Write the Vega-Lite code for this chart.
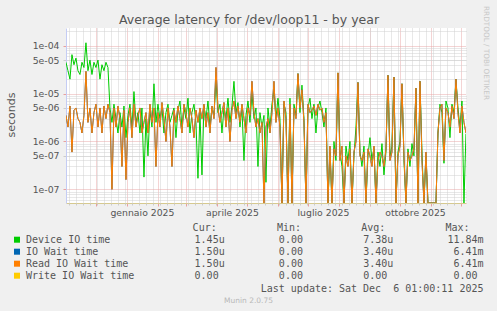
{
  "$schema": "https://vega.github.io/schema/vega-lite/v6.json",
  "width": 400,
  "height": 175,
  "autosize": {"type": "none"},
  "padding": {"left": 66, "top": 28, "right": 31, "bottom": 108},
  "background": "#f0f0f0",
  "config": {"view": {"stroke": null, "fill": "#ffffff"}},
  "title": {"text": "Average latency for /dev/loop11 - by year", "font": "DejaVu Sans", "fontSize": 12.5, "fontWeight": "normal", "color": "#555555", "anchor": "middle", "dx": -17, "dy": 35, "offset": 4.5, "baseline": "alphabetic"},
  "data": {"values": [
    {"t":"2024-11-01T00:00","d":4.5e-5,"w":3.5e-6,"r":3.5e-6},
    {"t":"2024-11-03T00:00","d":3.0e-5,"w":2.0e-6,"r":2.0e-6},
    {"t":"2024-11-05T00:00","d":2.0e-5,"w":5.5e-6,"r":5.5e-6},
    {"t":"2024-11-07T00:00","d":6.5e-5,"w":6.0e-7,"r":6.0e-7},
    {"t":"2024-11-09T00:00","d":4.0e-5,"w":4.5e-6,"r":4.5e-6},
    {"t":"2024-11-11T00:00","d":5.5e-5,"w":5.0e-6,"r":5.0e-6},
    {"t":"2024-11-13T00:00","d":3.0e-5,"w":3.0e-6,"r":3.0e-6},
    {"t":"2024-11-15T00:00","d":2.5e-5,"w":2.5e-6,"r":2.5e-6},
    {"t":"2024-11-17T00:00","d":4.5e-5,"w":1.5e-6,"r":1.5e-6},
    {"t":"2024-11-19T00:00","d":3.5e-5,"w":3.5e-6,"r":3.5e-6},
    {"t":"2024-11-21T00:00","d":1.15e-4,"w":2.9e-5,"r":2.9e-5},
    {"t":"2024-11-23T00:00","d":3.0e-5,"w":2.5e-6,"r":2.5e-6},
    {"t":"2024-11-25T00:00","d":5.0e-5,"w":5.0e-6,"r":5.0e-6},
    {"t":"2024-11-27T00:00","d":2.5e-5,"w":1.5e-6,"r":1.5e-6},
    {"t":"2024-11-29T00:00","d":4.5e-5,"w":4.0e-6,"r":4.0e-6},
    {"t":"2024-12-01T00:00","d":3.5e-5,"w":6.0e-6,"r":6.0e-6},
    {"t":"2024-12-03T00:00","d":5.0e-5,"w":2.0e-6,"r":2.0e-6},
    {"t":"2024-12-05T00:00","d":2.0e-5,"w":5.0e-6,"r":5.0e-6},
    {"t":"2024-12-07T00:00","d":4.0e-5,"w":1.5e-6,"r":1.5e-6},
    {"t":"2024-12-09T00:00","d":3.0e-5,"w":5.5e-6,"r":5.5e-6},
    {"t":"2024-12-11T00:00","d":4.5e-5,"w":3.0e-6,"r":3.0e-6},
    {"t":"2024-12-13T00:00","d":3.5e-5,"w":6.0e-6,"r":6.0e-6},
    {"t":"2024-12-15T00:00","d":5.0e-6,"w":4.0e-6,"r":4.0e-6},
    {"t":"2024-12-17T00:00","d":2.5e-6,"w":1.0e-7,"r":1.0e-7},
    {"t":"2024-12-19T00:00","d":6.0e-6,"w":5.0e-6,"r":5.0e-6},
    {"t":"2024-12-21T00:00","d":3.0e-6,"w":2.0e-6,"r":2.0e-6},
    {"t":"2024-12-23T00:00","d":1.5e-6,"w":5.5e-6,"r":5.5e-6},
    {"t":"2024-12-25T00:00","d":4.0e-6,"w":3.0e-6,"r":3.0e-6},
    {"t":"2024-12-27T00:00","d":2.0e-6,"w":3.0e-7,"r":3.0e-7},
    {"t":"2024-12-29T00:00","d":5.5e-6,"w":4.5e-6,"r":4.5e-6},
    {"t":"2024-12-31T00:00","d":1.2e-6,"w":1.6e-7,"r":1.6e-7},
    {"t":"2025-01-02T00:00","d":3.5e-6,"w":2.5e-6,"r":2.5e-6},
    {"t":"2025-01-04T00:00","d":6.0e-6,"w":5.0e-6,"r":5.0e-6},
    {"t":"2025-01-06T00:00","d":2.0e-6,"w":1.2e-6,"r":1.2e-6},
    {"t":"2025-01-08T00:00","d":1.1e-5,"w":6.0e-6,"r":6.0e-6},
    {"t":"2025-01-10T00:00","d":2.5e-6,"w":2.0e-6,"r":2.0e-6},
    {"t":"2025-01-12T00:00","d":4.0e-6,"w":3.5e-6,"r":3.5e-6},
    {"t":"2025-01-14T00:00","d":1.5e-6,"w":5.0e-6,"r":5.0e-6},
    {"t":"2025-01-16T00:00","d":5.0e-6,"w":1.5e-6,"r":1.5e-6},
    {"t":"2025-01-18T00:00","d":1.8e-7,"w":2.5e-6,"r":2.5e-6},
    {"t":"2025-01-20T00:00","d":3.0e-6,"w":4.0e-6,"r":4.0e-6},
    {"t":"2025-01-22T00:00","d":5.0e-7,"w":1.5e-6,"r":1.5e-6},
    {"t":"2025-01-24T00:00","d":4.5e-6,"w":6.0e-6,"r":6.0e-6},
    {"t":"2025-01-26T00:00","d":2.0e-6,"w":2.5e-6,"r":2.5e-6},
    {"t":"2025-01-28T00:00","d":1.6e-5,"w":5.0e-6,"r":5.0e-6},
    {"t":"2025-01-30T00:00","d":2.5e-6,"w":3.0e-7,"r":3.0e-7},
    {"t":"2025-02-01T00:00","d":6.0e-6,"w":4.0e-6,"r":4.0e-6},
    {"t":"2025-02-03T00:00","d":3.0e-6,"w":2.0e-6,"r":2.0e-6},
    {"t":"2025-02-05T00:00","d":5.0e-6,"w":6.5e-6,"r":6.5e-6},
    {"t":"2025-02-07T00:00","d":1.5e-6,"w":3.0e-6,"r":3.0e-6},
    {"t":"2025-02-09T00:00","d":4.0e-6,"w":1.0e-6,"r":1.0e-6},
    {"t":"2025-02-11T00:00","d":6.0e-6,"w":5.0e-6,"r":5.0e-6},
    {"t":"2025-02-13T00:00","d":2.5e-6,"w":2.0e-6,"r":2.0e-6},
    {"t":"2025-02-15T00:00","d":3.5e-6,"w":3.0e-7,"r":3.0e-7},
    {"t":"2025-02-17T00:00","d":5.0e-6,"w":4.5e-6,"r":4.5e-6},
    {"t":"2025-02-19T00:00","d":1.2e-6,"w":2.5e-6,"r":2.5e-6},
    {"t":"2025-02-21T00:00","d":4.5e-6,"w":5.5e-6,"r":5.5e-6},
    {"t":"2025-02-23T00:00","d":7.0e-6,"w":3.0e-6,"r":3.0e-6},
    {"t":"2025-02-25T00:00","d":2.0e-6,"w":1.5e-6,"r":1.5e-6},
    {"t":"2025-02-27T00:00","d":5.0e-6,"w":6.0e-6,"r":6.0e-6},
    {"t":"2025-03-01T00:00","d":3.0e-6,"w":4.0e-6,"r":4.0e-6},
    {"t":"2025-03-03T00:00","d":8.0e-6,"w":2.0e-6,"r":2.0e-6},
    {"t":"2025-03-05T00:00","d":1.5e-6,"w":5.0e-6,"r":5.0e-6},
    {"t":"2025-03-07T00:00","d":4.0e-6,"w":3.0e-6,"r":3.0e-6},
    {"t":"2025-03-09T00:00","d":6.0e-6,"w":1.2e-6,"r":1.2e-6},
    {"t":"2025-03-11T00:00","d":2.5e-6,"w":4.5e-6,"r":4.5e-6},
    {"t":"2025-03-13T00:00","d":1.7e-7,"w":2.5e-6,"r":2.5e-6},
    {"t":"2025-03-15T00:00","d":4.0e-6,"w":5.0e-6,"r":5.0e-6},
    {"t":"2025-03-17T00:00","d":2.0e-7,"w":3.0e-6,"r":3.0e-6},
    {"t":"2025-03-19T00:00","d":5.5e-6,"w":6.0e-6,"r":6.0e-6},
    {"t":"2025-03-21T00:00","d":3.0e-6,"w":2.0e-6,"r":2.0e-6},
    {"t":"2025-03-23T00:00","d":7.0e-6,"w":4.0e-6,"r":4.0e-6},
    {"t":"2025-03-25T00:00","d":2.0e-6,"w":1.5e-6,"r":1.5e-6},
    {"t":"2025-03-27T00:00","d":5.0e-6,"w":5.5e-6,"r":5.5e-6},
    {"t":"2025-03-29T00:00","d":3.5e-6,"w":3.0e-6,"r":3.0e-6},
    {"t":"2025-03-31T00:00","d":2.0e-5,"w":3.5e-5,"r":3.5e-5},
    {"t":"2025-04-02T00:00","d":4.0e-6,"w":5.0e-6,"r":5.0e-6},
    {"t":"2025-04-04T00:00","d":6.0e-6,"w":2.5e-6,"r":2.5e-6},
    {"t":"2025-04-06T00:00","d":1.5e-6,"w":4.0e-6,"r":4.0e-6},
    {"t":"2025-04-08T00:00","d":5.0e-6,"w":6.5e-6,"r":6.5e-6},
    {"t":"2025-04-10T00:00","d":3.0e-6,"w":2.0e-6,"r":2.0e-6},
    {"t":"2025-04-12T00:00","d":8.0e-6,"w":5.0e-6,"r":5.0e-6},
    {"t":"2025-04-14T00:00","d":2.5e-6,"w":1.0e-6,"r":1.0e-6},
    {"t":"2025-04-16T00:00","d":5.5e-6,"w":4.5e-6,"r":4.5e-6},
    {"t":"2025-04-18T00:00","d":1.8e-5,"w":7.0e-6,"r":7.0e-6},
    {"t":"2025-04-20T00:00","d":4.0e-6,"w":3.0e-6,"r":3.0e-6},
    {"t":"2025-04-22T00:00","d":6.5e-6,"w":5.5e-6,"r":5.5e-6},
    {"t":"2025-04-24T00:00","d":2.0e-6,"w":2.5e-6,"r":2.5e-6},
    {"t":"2025-04-26T00:00","d":5.0e-6,"w":6.0e-6,"r":6.0e-6},
    {"t":"2025-04-28T00:00","d":4.0e-7,"w":3.0e-6,"r":3.0e-6},
    {"t":"2025-04-30T00:00","d":3.5e-6,"w":1.5e-6,"r":1.5e-6},
    {"t":"2025-05-02T00:00","d":7.0e-6,"w":5.0e-6,"r":5.0e-6},
    {"t":"2025-05-04T00:00","d":2.5e-6,"w":3.5e-6,"r":3.5e-6},
    {"t":"2025-05-06T00:00","d":1.0e-5,"w":1.8e-5,"r":1.8e-5},
    {"t":"2025-05-08T00:00","d":3.0e-6,"w":4.0e-6,"r":4.0e-6},
    {"t":"2025-05-10T00:00","d":5.0e-6,"w":2.0e-6,"r":2.0e-6},
    {"t":"2025-05-12T00:00","d":3.0e-7,"w":3.0e-6,"r":3.0e-6},
    {"t":"2025-05-14T00:00","d":4.0e-6,"w":1.5e-6,"r":1.5e-6},
    {"t":"2025-05-16T00:00","d":2.0e-6,"w":2.5e-6,"r":2.5e-6},
    {"t":"2025-05-18T00:00","d":3.5e-6,"w":0,"r":0},
    {"t":"2025-05-20T00:00","d":1.4e-7,"w":2.0e-6,"r":2.0e-6},
    {"t":"2025-05-22T00:00","d":5.0e-6,"w":3.0e-6,"r":3.0e-6},
    {"t":"2025-05-24T00:00","d":2.0e-6,"w":1.5e-6,"r":1.5e-6},
    {"t":"2025-05-26T00:00","d":6.0e-6,"w":4.0e-6,"r":4.0e-6},
    {"t":"2025-05-28T00:00","d":1.2e-5,"w":1.8e-5,"r":1.8e-5},
    {"t":"2025-05-30T00:00","d":3.0e-6,"w":2.5e-6,"r":2.5e-6},
    {"t":"2025-06-01T00:00","d":8.0e-6,"w":5.0e-6,"r":5.0e-6},
    {"t":"2025-06-03T00:00","d":3.0e-6,"w":2.0e-6,"r":2.0e-6},
    {"t":"2025-06-05T00:00","d":0,"w":0,"r":0},
    {"t":"2025-06-07T00:00","d":6.0e-6,"w":7.0e-6,"r":7.0e-6},
    {"t":"2025-06-09T00:00","d":4.0e-6,"w":3.0e-6,"r":3.0e-6},
    {"t":"2025-06-11T00:00","d":0,"w":0,"r":0},
    {"t":"2025-06-13T00:00","d":8.0e-6,"w":6.0e-6,"r":6.0e-6},
    {"t":"2025-06-15T00:00","d":0,"w":0,"r":0},
    {"t":"2025-06-17T00:00","d":6.0e-6,"w":5.0e-6,"r":5.0e-6},
    {"t":"2025-06-19T00:00","d":3.5e-6,"w":3.0e-6,"r":3.0e-6},
    {"t":"2025-06-21T00:00","d":2.6e-5,"w":2.6e-5,"r":2.6e-5},
    {"t":"2025-06-23T00:00","d":4.0e-6,"w":5.0e-6,"r":5.0e-6},
    {"t":"2025-06-25T00:00","d":1.5e-5,"w":1.2e-5,"r":1.2e-5},
    {"t":"2025-06-27T00:00","d":3.0e-6,"w":2.5e-6,"r":2.5e-6},
    {"t":"2025-06-29T00:00","d":0,"w":0,"r":0},
    {"t":"2025-07-01T00:00","d":5.0e-6,"w":6.0e-6,"r":6.0e-6},
    {"t":"2025-07-03T00:00","d":8.0e-6,"w":4.0e-6,"r":4.0e-6},
    {"t":"2025-07-05T00:00","d":3.0e-6,"w":4.5e-6,"r":4.5e-6},
    {"t":"2025-07-07T00:00","d":6.0e-6,"w":5.5e-6,"r":5.5e-6},
    {"t":"2025-07-09T00:00","d":1.5e-6,"w":3.5e-6,"r":3.5e-6},
    {"t":"2025-07-11T00:00","d":5.0e-6,"w":6.0e-6,"r":6.0e-6},
    {"t":"2025-07-13T00:00","d":7.0e-6,"w":4.5e-6,"r":4.5e-6},
    {"t":"2025-07-15T00:00","d":4.0e-6,"w":5.0e-6,"r":5.0e-6},
    {"t":"2025-07-17T00:00","d":2.0e-6,"w":2.5e-6,"r":2.5e-6},
    {"t":"2025-07-19T00:00","d":5.0e-6,"w":4.0e-6,"r":4.0e-6},
    {"t":"2025-07-21T00:00","d":0,"w":0,"r":0},
    {"t":"2025-07-23T00:00","d":6.0e-7,"w":8.0e-7,"r":8.0e-7},
    {"t":"2025-07-25T00:00","d":0,"w":0,"r":0},
    {"t":"2025-07-27T00:00","d":1.0e-6,"w":7.0e-7,"r":7.0e-7},
    {"t":"2025-07-29T00:00","d":4.0e-7,"w":5.0e-7,"r":5.0e-7},
    {"t":"2025-07-31T00:00","d":2.7e-5,"w":2.7e-5,"r":2.7e-5},
    {"t":"2025-08-02T00:00","d":6.0e-7,"w":4.0e-7,"r":4.0e-7},
    {"t":"2025-08-04T00:00","d":3.0e-7,"w":8.0e-7,"r":8.0e-7},
    {"t":"2025-08-06T00:00","d":0,"w":0,"r":0},
    {"t":"2025-08-08T00:00","d":8.0e-7,"w":5.0e-7,"r":5.0e-7},
    {"t":"2025-08-10T00:00","d":4.0e-7,"w":3.0e-7,"r":3.0e-7},
    {"t":"2025-08-12T00:00","d":1.0e-6,"w":7.0e-7,"r":7.0e-7},
    {"t":"2025-08-14T00:00","d":0,"w":0,"r":0},
    {"t":"2025-08-16T00:00","d":5.0e-7,"w":6.0e-7,"r":6.0e-7},
    {"t":"2025-08-18T00:00","d":2.0e-6,"w":1.0e-6,"r":1.0e-6},
    {"t":"2025-08-20T00:00","d":1.7e-5,"w":1.7e-5,"r":1.7e-5},
    {"t":"2025-08-22T00:00","d":6.0e-7,"w":5.0e-7,"r":5.0e-7},
    {"t":"2025-08-24T00:00","d":3.0e-7,"w":4.0e-7,"r":4.0e-7},
    {"t":"2025-08-26T00:00","d":8.0e-7,"w":6.0e-7,"r":6.0e-7},
    {"t":"2025-08-28T00:00","d":0,"w":0,"r":0},
    {"t":"2025-08-30T00:00","d":5.0e-7,"w":7.0e-7,"r":7.0e-7},
    {"t":"2025-09-01T00:00","d":1.2e-6,"w":5.0e-7,"r":5.0e-7},
    {"t":"2025-09-03T00:00","d":4.0e-7,"w":3.0e-7,"r":3.0e-7},
    {"t":"2025-09-05T00:00","d":7.0e-7,"w":8.0e-7,"r":8.0e-7},
    {"t":"2025-09-07T00:00","d":0,"w":0,"r":0},
    {"t":"2025-09-09T00:00","d":6.0e-7,"w":4.0e-7,"r":4.0e-7},
    {"t":"2025-09-11T00:00","d":3.0e-7,"w":6.0e-7,"r":6.0e-7},
    {"t":"2025-09-13T00:00","d":9.0e-7,"w":5.0e-7,"r":5.0e-7},
    {"t":"2025-09-15T00:00","d":2.0e-7,"w":3.0e-7,"r":3.0e-7},
    {"t":"2025-09-17T00:00","d":6.0e-7,"w":7.0e-7,"r":7.0e-7},
    {"t":"2025-09-19T00:00","d":2.4e-5,"w":2.4e-5,"r":2.4e-5},
    {"t":"2025-09-21T00:00","d":5.0e-7,"w":4.0e-7,"r":4.0e-7},
    {"t":"2025-09-23T00:00","d":8.0e-7,"w":6.0e-7,"r":6.0e-7},
    {"t":"2025-09-25T00:00","d":2.2e-5,"w":2.2e-5,"r":2.2e-5},
    {"t":"2025-09-27T00:00","d":0,"w":0,"r":0},
    {"t":"2025-09-29T00:00","d":6.0e-7,"w":5.0e-7,"r":5.0e-7},
    {"t":"2025-10-01T00:00","d":1.0e-6,"w":8.0e-7,"r":8.0e-7},
    {"t":"2025-10-03T00:00","d":1.6e-5,"w":1.6e-5,"r":1.6e-5},
    {"t":"2025-10-05T00:00","d":4.0e-7,"w":5.0e-7,"r":5.0e-7},
    {"t":"2025-10-07T00:00","d":0,"w":0,"r":0},
    {"t":"2025-10-09T00:00","d":7.0e-7,"w":6.0e-7,"r":6.0e-7},
    {"t":"2025-10-11T00:00","d":3.0e-7,"w":4.0e-7,"r":4.0e-7},
    {"t":"2025-10-13T00:00","d":9.0e-7,"w":5.0e-7,"r":5.0e-7},
    {"t":"2025-10-15T00:00","d":5.0e-7,"w":7.0e-7,"r":7.0e-7},
    {"t":"2025-10-17T00:00","d":1.3e-5,"w":1.3e-5,"r":1.3e-5},
    {"t":"2025-10-19T00:00","d":0,"w":0,"r":0},
    {"t":"2025-10-21T00:00","d":1.8e-5,"w":1.8e-5,"r":1.8e-5},
    {"t":"2025-10-23T00:00","d":6.0e-7,"w":4.0e-7,"r":4.0e-7},
    {"t":"2025-10-25T00:00","d":0,"w":0,"r":0},
    {"t":"2025-10-27T00:00","d":5.0e-7,"w":6.0e-7,"r":6.0e-7},
    {"t":"2025-10-29T00:00","d":0,"w":0,"r":0},
    {"t":"2025-10-31T00:00","d":0,"w":0,"r":0},
    {"t":"2025-11-02T00:00","d":0,"w":0,"r":0},
    {"t":"2025-11-04T00:00","d":0,"w":0,"r":0},
    {"t":"2025-11-06T00:00","d":0,"w":0,"r":0},
    {"t":"2025-11-08T00:00","d":1.5e-6,"w":1.5e-6,"r":1.5e-6},
    {"t":"2025-11-10T00:00","d":6.0e-6,"w":5.0e-6,"r":5.0e-6},
    {"t":"2025-11-12T00:00","d":4.0e-6,"w":6.0e-6,"r":6.0e-6},
    {"t":"2025-11-14T00:00","d":3.5e-7,"w":4.0e-7,"r":4.0e-7},
    {"t":"2025-11-16T00:00","d":7.0e-6,"w":5.0e-6,"r":5.0e-6},
    {"t":"2025-11-18T00:00","d":5.0e-6,"w":4.0e-6,"r":4.0e-6},
    {"t":"2025-11-20T00:00","d":1.2e-6,"w":2.0e-6,"r":2.0e-6},
    {"t":"2025-11-22T00:00","d":6.0e-6,"w":5.5e-6,"r":5.5e-6},
    {"t":"2025-11-24T00:00","d":4.0e-6,"w":3.0e-6,"r":3.0e-6},
    {"t":"2025-11-26T00:00","d":2.0e-5,"w":2.0e-5,"r":2.0e-5},
    {"t":"2025-11-28T00:00","d":5.0e-6,"w":4.0e-6,"r":4.0e-6},
    {"t":"2025-11-30T00:00","d":2.0e-6,"w":1.5e-6,"r":1.5e-6},
    {"t":"2025-12-02T00:00","d":7.0e-6,"w":5.5e-6,"r":5.5e-6},
    {"t":"2025-12-04T00:00","d":0,"w":2.5e-6,"r":2.5e-6},
    {"t":"2025-12-06T00:00","d":1.45e-6,"w":1.5e-6,"r":1.5e-6}
  ]},
  "layer": [
    {
      "encoding": {
        "x": {
          "field": "t", "type": "temporal",
          "scale": {"domain": [{"year": 2024, "month": 11, "date": 1, "hours": 1}, {"year": 2025, "month": 12, "date": 6, "hours": 1}], "nice": false},
          "title": "Last update: Sat Dec\u00a0\u00a06 01:00:11 2025",
          "axis": {
            "orient": "bottom",
            "values": [{"year":2024,"month":12,"date":1},{"year":2025,"month":1,"date":1},{"year":2025,"month":2,"date":1},{"year":2025,"month":3,"date":1},{"year":2025,"month":4,"date":1},{"year":2025,"month":5,"date":1},{"year":2025,"month":6,"date":1},{"year":2025,"month":7,"date":1},{"year":2025,"month":8,"date":1},{"year":2025,"month":9,"date":1},{"year":2025,"month":10,"date":1},{"year":2025,"month":11,"date":1},{"year":2025,"month":12,"date":1}],
            "labelExpr": "indexof([0,3,6,9], month(datum.value)) >= 0 ? ['gennaio','febbraio','marzo','aprile','maggio','giugno','luglio','agosto','settembre','ottobre','novembre','dicembre'][month(datum.value)] + ' ' + year(datum.value) : ''",
            "labelOffset": 15, "labelFlush": false, "labelOverlap": false,
            "labelFont": "DejaVu Sans", "labelFontSize": 9.3, "labelColor": "#555555", "labelPadding": 2,
            "tickSize": 3, "tickColor": "#e8a0a0",
            "grid": true, "gridColor": "#e8a8a8", "gridDash": [1, 1],
            "domainColor": "#d6c98f",
            "titleFont": "DejaVu Sans Mono", "titleFontSize": 10, "titleFontWeight": "normal", "titleColor": "#555555",
            "titleX": 417, "titleY": 85, "titleAlign": "right", "titleBaseline": "middle"
          }
        }
      },
      "layer": [
        {
          "mark": {"type": "line", "strokeWidth": 1, "clip": true},
          "encoding": {
            "y": {
              "field": "d", "type": "quantitative", "title": "seconds",
              "scale": {"type": "log", "domain": [5.18e-8, 2.34e-4], "clamp": true, "nice": false},
              "axis": {
                "orient": "left",
                "values": [1e-7, 5e-7, 1e-6, 5e-6, 1e-5, 5e-5, 1e-4],
                "labelExpr": "replace(format(datum.value, '.0e'), 'e-', 'e-0')",
                "labelFont": "DejaVu Sans", "labelFontSize": 9.3, "labelColor": "#555555", "labelPadding": 4,
                "tickSize": 3,
                "tickColor": {"condition": {"test": "indexof(format(datum.value, '.0e'), '1e') == 0", "value": "#e8a0a0"}, "value": "#cccccc"},
                "grid": true,
                "gridColor": {"condition": {"test": "indexof(format(datum.value, '.0e'), '1e') == 0", "value": "#e8a8a8"}, "value": "#cccccc"},
                "gridDash": [1, 1],
                "domainColor": "#c4ccf4",
                "titleFont": "DejaVu Sans", "titleFontSize": 11, "titleFontWeight": "normal", "titleColor": "#555555",
                "titleX": -55, "titleY": 86.5, "titleAngle": 270, "titleAlign": "center", "titleBaseline": "middle"
              }
            },
            "color": {
              "datum": "Device IO time",
              "scale": {"domain": ["Device IO time", "IO Wait time", "Read IO Wait time", "Write IO Wait time"], "range": ["#00cc00", "#0066b3", "#ff8000", "#ffcc00"]},
              "legend": {
                "orient": "none", "legendX": -54, "legendY": 194.7, "direction": "vertical",
                "title": "\u200b\u00a0\u00a0\u00a0\u00a0\u00a0\u00a0\u00a0\u00a0\u00a0\u00a0\u00a0\u00a0\u00a0\u00a0\u00a0\u00a0\u00a0\u00a0\u00a0\u00a0\u00a0\u00a0\u00a0\u00a0\u00a0\u00a0\u00a0\u00a0\u00a0\u00a0Cur:\u00a0\u00a0\u00a0\u00a0\u00a0\u00a0\u00a0\u00a0\u00a0\u00a0Min:\u00a0\u00a0\u00a0\u00a0\u00a0\u00a0\u00a0\u00a0\u00a0\u00a0Avg:\u00a0\u00a0\u00a0\u00a0\u00a0\u00a0\u00a0\u00a0\u00a0\u00a0Max:",
                "titleFont": "DejaVu Sans Mono", "titleFontSize": 10, "titleFontWeight": "normal", "titleColor": "#555555", "titlePadding": 2, "titleLimit": 1000,
                "symbolType": "square", "symbolSize": 36, "symbolStrokeWidth": 0,
                "labelFont": "DejaVu Sans Mono", "labelFontSize": 10, "labelColor": "#555555", "labelLimit": 1000, "labelOffset": 4, "rowPadding": 2,
                "labelExpr": "datum.label == 'Device IO time' ? 'Device IO time\u00a0\u00a0\u00a0\u00a0\u00a0\u00a0\u00a0\u00a0\u00a0\u00a0\u00a0\u00a0\u00a0\u00a01.45u\u00a0\u00a0\u00a0\u00a0\u00a0\u00a0\u00a0\u00a0\u00a00.00\u00a0\u00a0\u00a0\u00a0\u00a0\u00a0\u00a0\u00a0\u00a0\u00a07.38u\u00a0\u00a0\u00a0\u00a0\u00a0\u00a0\u00a0\u00a0\u00a011.84m' : datum.label == 'IO Wait time' ? 'IO Wait time\u00a0\u00a0\u00a0\u00a0\u00a0\u00a0\u00a0\u00a0\u00a0\u00a0\u00a0\u00a0\u00a0\u00a0\u00a0\u00a01.50u\u00a0\u00a0\u00a0\u00a0\u00a0\u00a0\u00a0\u00a0\u00a00.00\u00a0\u00a0\u00a0\u00a0\u00a0\u00a0\u00a0\u00a0\u00a0\u00a03.40u\u00a0\u00a0\u00a0\u00a0\u00a0\u00a0\u00a0\u00a0\u00a0\u00a06.41m' : datum.label == 'Read IO Wait time' ? 'Read IO Wait time\u00a0\u00a0\u00a0\u00a0\u00a0\u00a0\u00a0\u00a0\u00a0\u00a0\u00a01.50u\u00a0\u00a0\u00a0\u00a0\u00a0\u00a0\u00a0\u00a0\u00a00.00\u00a0\u00a0\u00a0\u00a0\u00a0\u00a0\u00a0\u00a0\u00a0\u00a03.40u\u00a0\u00a0\u00a0\u00a0\u00a0\u00a0\u00a0\u00a0\u00a0\u00a06.41m' : 'Write IO Wait time\u00a0\u00a0\u00a0\u00a0\u00a0\u00a0\u00a0\u00a0\u00a0\u00a00.00\u00a0\u00a0\u00a0\u00a0\u00a0\u00a0\u00a0\u00a0\u00a0\u00a00.00\u00a0\u00a0\u00a0\u00a0\u00a0\u00a0\u00a0\u00a0\u00a0\u00a00.00\u00a0\u00a0\u00a0\u00a0\u00a0\u00a0\u00a0\u00a0\u00a0\u00a0\u00a00.00'",
                "encode": {"symbols": {"update": {"fill": {"scale": "color", "field": "value"}, "strokeWidth": {"value": 0}, "opacity": {"value": 1}}}}
              }
            }
          }
        },
        {
          "mark": {"type": "line", "strokeWidth": 1, "clip": true},
          "encoding": {
            "y": {"field": "w", "type": "quantitative", "title": "seconds", "scale": {"type": "log", "domain": [5.18e-8, 2.34e-4], "clamp": true, "nice": false}},
            "color": {"datum": "IO Wait time"}
          }
        },
        {
          "mark": {"type": "line", "strokeWidth": 1, "clip": true},
          "encoding": {
            "y": {"field": "r", "type": "quantitative", "title": "seconds", "scale": {"type": "log", "domain": [5.18e-8, 2.34e-4], "clamp": true, "nice": false}},
            "color": {"datum": "Read IO Wait time"}
          }
        }
      ]
    },
    {
      "mark": {"type": "line", "opacity": 0, "clip": true},
      "encoding": {
        "x": {
          "field": "t", "type": "temporal",
          "scale": {"domain": [{"year": 2024, "month": 11, "date": 1, "hours": 1}, {"year": 2025, "month": 12, "date": 6, "hours": 1}], "nice": false},
          "title": "Munin 2.0.75",
          "axis": {
            "orient": "bottom",
            "values": [{"year":2024,"month":11,"date":4},{"year":2024,"month":11,"date":11},{"year":2024,"month":11,"date":18},{"year":2024,"month":11,"date":25},{"year":2024,"month":12,"date":2},{"year":2024,"month":12,"date":9},{"year":2024,"month":12,"date":16},{"year":2024,"month":12,"date":23},{"year":2024,"month":12,"date":30},{"year":2025,"month":1,"date":6},{"year":2025,"month":1,"date":13},{"year":2025,"month":1,"date":20},{"year":2025,"month":1,"date":27},{"year":2025,"month":2,"date":3},{"year":2025,"month":2,"date":10},{"year":2025,"month":2,"date":17},{"year":2025,"month":2,"date":24},{"year":2025,"month":3,"date":3},{"year":2025,"month":3,"date":10},{"year":2025,"month":3,"date":17},{"year":2025,"month":3,"date":24},{"year":2025,"month":3,"date":31},{"year":2025,"month":4,"date":7},{"year":2025,"month":4,"date":14},{"year":2025,"month":4,"date":21},{"year":2025,"month":4,"date":28},{"year":2025,"month":5,"date":5},{"year":2025,"month":5,"date":12},{"year":2025,"month":5,"date":19},{"year":2025,"month":5,"date":26},{"year":2025,"month":6,"date":2},{"year":2025,"month":6,"date":9},{"year":2025,"month":6,"date":16},{"year":2025,"month":6,"date":23},{"year":2025,"month":6,"date":30},{"year":2025,"month":7,"date":7},{"year":2025,"month":7,"date":14},{"year":2025,"month":7,"date":21},{"year":2025,"month":7,"date":28},{"year":2025,"month":8,"date":4},{"year":2025,"month":8,"date":11},{"year":2025,"month":8,"date":18},{"year":2025,"month":8,"date":25},{"year":2025,"month":9,"date":1},{"year":2025,"month":9,"date":8},{"year":2025,"month":9,"date":15},{"year":2025,"month":9,"date":22},{"year":2025,"month":9,"date":29},{"year":2025,"month":10,"date":6},{"year":2025,"month":10,"date":13},{"year":2025,"month":10,"date":20},{"year":2025,"month":10,"date":27},{"year":2025,"month":11,"date":3},{"year":2025,"month":11,"date":10},{"year":2025,"month":11,"date":17},{"year":2025,"month":11,"date":24}],
            "labels": false, "ticks": true, "tickSize": 2, "tickColor": "#cccccc", "domain": false,
            "grid": true, "gridColor": "#d0d0d0", "gridDash": [1, 1],
            "titleFont": "DejaVu Sans", "titleFontSize": 7.5, "titleFontWeight": "normal", "titleColor": "#b8b8b8",
            "titleX": 182, "titleY": 97, "titleAlign": "center", "titleBaseline": "middle"
          }
        },
        "y": {
          "field": "r", "type": "quantitative", "title": "RRDTOOL / TOBI OETIKER",
          "scale": {"type": "log", "domain": [5.18e-8, 2.34e-4], "clamp": true, "nice": false},
          "axis": {
            "orient": "right",
            "values": [6e-8, 7e-8, 8e-8, 9e-8, 2e-7, 3e-7, 4e-7, 5e-7, 6e-7, 7e-7, 8e-7, 9e-7, 2e-6, 3e-6, 4e-6, 5e-6, 6e-6, 7e-6, 8e-6, 9e-6, 2e-5, 3e-5, 4e-5, 5e-5, 6e-5, 7e-5, 8e-5, 9e-5, 2e-4],
            "labels": false, "ticks": false, "domain": false,
            "grid": true, "gridColor": "#d0d0d0", "gridDash": [1, 1],
            "titleFont": "DejaVu Sans", "titleFontSize": 7.3, "titleFontWeight": "normal", "titleColor": "#c8c8c8",
            "titleAngle": 90, "titleX": 19, "titleY": 24.5, "titleAlign": "center", "titleBaseline": "middle"
          }
        }
      }
    }
  ],
  "resolve": {"axis": {"x": "independent", "y": "independent"}}
}
